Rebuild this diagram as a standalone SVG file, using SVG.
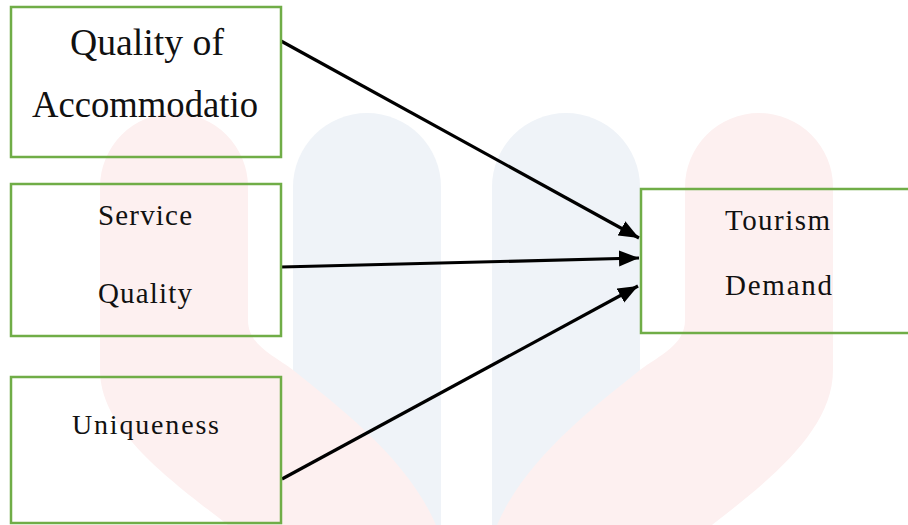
<svg xmlns="http://www.w3.org/2000/svg" width="908" height="525" viewBox="0 0 908 525">
  <style>
    .box { fill: none; stroke: #70ad47; stroke-width: 2.5; }
    .lbl { font-family: "Liberation Serif", "Times New Roman", serif; fill: #111; text-anchor: start; }
    .edge { stroke: #000; stroke-width: 3.2; fill: none; }
    .wm-pink { fill: #fdf0f0; }
    .wm-blue { fill: #eff3f8; }
  </style>
  <defs>
    <marker id="arrow" markerUnits="userSpaceOnUse" markerWidth="21" markerHeight="17" refX="20" refY="8" orient="auto">
      <path d="M0,0 L20,8 L0,16 Z" fill="#000"/>
    </marker>
  </defs>

  <rect width="908" height="525" fill="#fff"/>

  <!-- faint background emblem -->
  <g id="emblem">
    <path class="wm-blue" d="M293 525 L293 187 A74 74 0 0 1 441 187 L441 525 Z"/>
    <path class="wm-blue" d="M492 525 L492 187 A74 74 0 0 1 640 187 L640 525 Z"/>
    <path class="wm-pink" d="M685 320 L685 187 A74 74 0 0 1 833 187 L833 370 C833 430 770 480 712 525 L497 525 C525 460 590 410 640 370 C660 355 685 345 685 320 Z"/>
    <path class="wm-pink" d="M248 320 L248 187 A74 74 0 0 0 100 187 L100 370 C100 430 170 480 228 525 L436 525 C408 460 343 410 293 370 C273 355 248 345 248 320 Z"/>
  </g>

  <!-- connectors -->
  <g id="connectors">
    <line class="edge" x1="281" y1="41" x2="639" y2="238" marker-end="url(#arrow)"/>
    <line class="edge" x1="281" y1="267" x2="639" y2="258" marker-end="url(#arrow)"/>
    <line class="edge" x1="282" y1="479" x2="638" y2="286" stroke-width="2.6" marker-end="url(#arrow)"/>
  </g>

  <!-- nodes -->
  <g id="node-accommodation">
    <rect class="box" x="11" y="7" width="270" height="150"/>
    <text class="lbl" x="70" y="55" font-size="38" textLength="154" lengthAdjust="spacingAndGlyphs">Quality of</text>
    <text class="lbl" x="32" y="117" font-size="38" textLength="226" lengthAdjust="spacingAndGlyphs">Accommodatio</text>
  </g>
  <g id="node-service">
    <rect class="box" x="11" y="184" width="270" height="152"/>
    <text class="lbl" x="98" y="225" font-size="29" textLength="94" lengthAdjust="spacing">Service</text>
    <text class="lbl" x="98" y="303" font-size="29" textLength="94" lengthAdjust="spacing">Quality</text>
  </g>
  <g id="node-uniqueness">
    <rect class="box" x="11" y="377" width="270" height="146"/>
    <text class="lbl" x="72" y="434" font-size="28" textLength="147" lengthAdjust="spacing">Uniqueness</text>
  </g>
  <g id="node-demand">
    <rect class="box" x="641" y="189" width="280" height="144"/>
    <text class="lbl" x="725" y="230" font-size="29" textLength="105" lengthAdjust="spacing">Tourism</text>
    <text class="lbl" x="725" y="295" font-size="29" textLength="107" lengthAdjust="spacing">Demand</text>
  </g>
</svg>
